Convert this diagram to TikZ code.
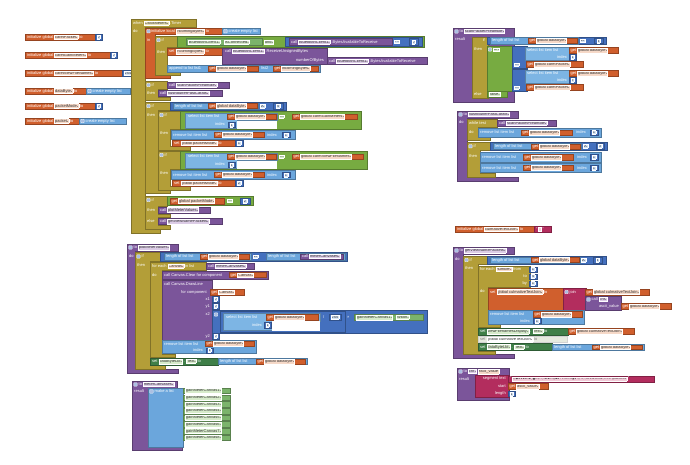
\documentclass[tikz,border=0pt]{standalone}
\usepackage{fontspec}
\setmainfont{Liberation Sans}
\newfontfamily\dv{DejaVu Sans}
\definecolor{ctl}{HTML}{B39E38}
\definecolor{prc}{HTML}{7B559A}
\definecolor{vr}{HTML}{D05F2D}
\definecolor{ls}{HTML}{6BA6DC}
\definecolor{lsl}{HTML}{7DB5E4}
\definecolor{mb}{HTML}{4470BE}
\definecolor{lg}{HTML}{77AB41}
\definecolor{tx}{HTML}{B32D5E}
\definecolor{cg}{HTML}{7BB36B}
\definecolor{cs}{HTML}{3F7F48}
\definecolor{dis}{HTML}{E6EADF}
\definecolor{fo}{HTML}{F6D9C8}
\definecolor{fg}{HTML}{D7EBCB}
\definecolor{fp}{HTML}{DCCCE6}
\definecolor{fb}{HTML}{D3E3F6}
\definecolor{fy}{HTML}{EAE1B6}
\definecolor{ftx}{HTML}{F2CAD8}
\definecolor{fdk}{HTML}{333333}
\setlength\fboxsep{0.45pt}
\setlength\fboxrule{0.3pt}
\newcommand\bfs{\fontsize{4.0}{4.4}\selectfont}
\newcommand\Fd[2][fo]{\fcolorbox{white}{#1}{\textcolor{fdk}{#2}\hspace{0.3pt}{\dv\fontsize{2}{2}\selectfont\textcolor{fdk}{▾}}}}
\newcommand\Fe[2][fb]{\fcolorbox{white}{#1}{\textcolor{fdk}{#2}}}
\tikzset{
  bk/.style={fill=#1, draw=#1!72!black, line width=0.3pt},
  tl/.style={anchor=west, inner sep=0pt, text=white, font=\bfs},
  tr/.style={anchor=east, inner sep=0pt, text=white, font=\bfs},
  gear/.style={draw=white, fill=mb!45!white, rounded corners=0.6pt, minimum size=3.4pt, inner sep=0pt, line width=0.3pt}
}
\newcommand\Bx[5]{\draw[bk=#1] (#2,#3) rectangle (#4,#5);}
\newcommand\Tl[3]{\node[tl] at (#1,#2) {#3};}
\newcommand\Tr[3]{\node[tr] at (#1,#2) {#3};}
\newcommand\Gear[2]{\node[gear] at (#1,#2) {};}
\newcommand\Nm[5]{\Bx{mb}{#1}{#2}{#3}{#4}\node[inner sep=0pt,font=\bfs] at ({(#1+#3)/2},{(#2+#4)/2}) {\Fe[fb]{#5}};}
\newcommand\Gt[5]{\Bx{vr}{#1}{#2}{#3}{#4}\node[tl] at ({#1+1.5},{(#2+#4)/2}) {get \Fd{#5}};}
\begin{document}
\begin{tikzpicture}[x=1pt,y=-1pt]
\fill[white] (0,0) rectangle (690,464);
\useasboundingbox (0,0) rectangle (690,464);

% ---------- left column: globals ----------
\Bx{vr}{25}{34}{95}{40} \Tl{27}{37}{initialize global \Fd{caretPacket} to} \Nm{95}{34}{102}{40}{0}
\Bx{vr}{25}{52}{110}{58} \Tl{27}{55}{initialize global \Fd{caretGainMeters} to} \Nm{110}{52}{117}{58}{0}
\Bx{vr}{25}{70}{122}{76} \Tl{27}{73}{initialize global \Fd{caretViewFileNames} to} \Nm{122}{70}{134}{76}{254}
\Bx{vr}{25}{88}{86}{94} \Tl{27}{91}{initialize global \Fd{dataByte} to} \Bx{ls}{86}{88}{130}{94} \Gear{89.5}{91} \Tl{92.5}{91}{create empty list}
\Bx{vr}{25}{103}{95}{109} \Tl{27}{106}{initialize global \Fd{packetMode} to} \Nm{95}{103}{102}{109}{0}
\Bx{vr}{25}{118}{79}{124} \Tl{27}{121}{initialize global \Fd{packet} to} \Bx{ls}{79}{118}{126}{124} \Gear{82.5}{121} \Tl{85.5}{121}{create empty list}

% ---------- when ClockMeters.Timer ----------
\draw[bk=ctl] (131,19)--(196,19)--(196,27)--(145,27)--(145,229)--(160,229)--(160,233)--(131,233)--cycle;
\Tl{133}{23}{when \Fd[fy]{ClockMeters} .Timer}
\Tl{133}{31}{do}
% initialize local
\draw[bk=vr] (145,28)--(222,28)--(222,34.5)--(155,34.5)--(155,75)--(170,75)--(170,78.5)--(145,78.5)--cycle;
\Gear{148.5}{31.25} \Tl{151}{31.25}{initialize local \Fd{incomingBytes} to}
\Bx{ls}{222}{28}{260}{34.5} \Gear{225.5}{31.25} \Tl{228.5}{31.25}{create empty list}
\Tl{147}{40}{in}
% if 1
\draw[bk=ctl] (155,36)--(177,36)--(177,47.5)--(167,47.5)--(167,72)--(180,72)--(180,75)--(155,75)--cycle;
\Gear{158.5}{40} \Tl{161.5}{40}{if} \Tl{157}{52}{then}
\Bx{lg}{177}{36}{424}{47.5}
\Bx{cg}{186}{38.5}{262}{45} \Tl{188}{41.75}{\Fd[fg]{BluetoothClient1} . \Fd[fg]{IsConnected}}
\Tl{264}{41.75}{\Fd[fg]{and}}
\Bx{mb}{285}{37}{422}{46.5}
\Bx{prc}{289}{38.5}{392}{45} \Tl{291}{41.75}{call \Fd[fp]{BluetoothClient1} .BytesAvailableToReceive}
\Tl{394}{41.75}{\Fd[fb]{>}} \Nm{409}{38.5}{418}{45}{0}
\Bx{vr}{167}{48}{222}{55} \Tl{169}{51.5}{set \Fd{incomingBytes} to}
\Bx{prc}{222}{48}{327}{64.5}
\Tl{225}{51.5}{call \Fd[fp]{BluetoothClient1} .ReceiveUnsignedBytes}
\Tr{324}{60.75}{numberOfBytes}
\Bx{prc}{327}{57.5}{427}{64} \Tl{329}{60.75}{call \Fd[fp]{BluetoothClient1} .BytesAvailableToReceive}
\Bx{ls}{167}{65}{320}{72} \Tl{169}{68.5}{append to list list1}
\Gt{208}{66}{258}{71}{global dataByte} \Tl{261}{68.5}{list2} \Gt{273}{66}{318}{71}{incomingBytes}
% if 2
\draw[bk=ctl] (145,81)--(167,81)--(167,89)--(158,89)--(158,97.5)--(170,97.5)--(170,100.5)--(145,100.5)--cycle;
\Gear{148.5}{85} \Tl{151.5}{85}{if} \Tl{147}{93.5}{then}
\Bx{prc}{167}{82}{229}{88} \Tl{169}{85}{call \Fd[fp]{scanPacketPreamble}}
\Bx{prc}{158}{90.5}{222}{96.5} \Tl{160}{93.5}{call \Fd[fp]{flushBufferPastCarats}}
% if 3
\draw[bk=ctl] (145,102)--(170,102)--(170,110)--(158,110)--(158,190)--(170,190)--(170,193.5)--(145,193.5)--cycle;
\Gear{148.5}{106} \Tl{151.5}{106}{if} \Tl{147}{115}{then}
\Bx{mb}{170}{102}{286}{110}
\Bx{ls}{173}{102.8}{258}{109.2} \Tl{175}{106}{length of list list}
\Gt{208}{103.6}{257}{108.4}{global dataByte}
\Tl{260}{106}{\Fd[fb]{≥}} \Nm{273}{103.3}{283}{108.7}{4}
% if A
\draw[bk=ctl] (158,111)--(180,111)--(180,129)--(170,129)--(170,146.5)--(190,146.5)--(190,150)--(158,150)--cycle;
\Gear{161.5}{115} \Tl{164.5}{115}{if} \Tl{160}{133}{then}
\Bx{lg}{180}{111.5}{361}{129}
\draw[bk=lsl] (185,113)--(277,113)--(277,120.5)--(237,120.5)--(237,128.5)--(185,128.5)--cycle;
\fill[white] (237.3,120.8) rectangle (277,128.5);
\Tl{188}{116.5}{select list item list} \Gt{227}{114}{276}{119}{global dataByte}
\Tr{225}{124.5}{index} \Nm{228}{122}{235}{127.5}{1}
\Tl{279}{116.5}{\Fd[fg]{=}}
\Gt{292}{114}{357}{119.5}{global caretGainMeters}
\Bx{ls}{171}{130.5}{295}{139} \Tl{173}{134.75}{remove list item list}
\Gt{214}{132}{264}{137.5}{global dataByte} \Tl{267}{134.75}{index} \Nm{282}{132}{290}{137.5}{1}
\Bx{vr}{172}{140}{235}{146.3} \Tl{174}{143.15}{set \Fd{global packetMode} to} \Nm{235}{140.5}{243}{145.8}{1}
% if B
\draw[bk=ctl] (158,151)--(180,151)--(180,169)--(170,169)--(170,186.5)--(190,186.5)--(190,190)--(158,190)--cycle;
\Gear{161.5}{155} \Tl{164.5}{155}{if} \Tl{160}{173}{then}
\Bx{lg}{180}{151.5}{367}{169}
\draw[bk=lsl] (185,153)--(277,153)--(277,160.5)--(237,160.5)--(237,168.5)--(185,168.5)--cycle;
\fill[white] (237.3,160.8) rectangle (277,168.5);
\Tl{188}{156.5}{select list item list} \Gt{227}{154}{276}{159}{global dataByte}
\Tr{225}{164.5}{index} \Nm{228}{162}{235}{167.5}{1}
\Tl{279}{156.5}{\Fd[fg]{=}}
\Gt{292}{154}{363}{159.5}{global caretViewFileNames}
\Bx{ls}{171}{170.5}{295}{179} \Tl{173}{174.75}{remove list item list}
\Gt{214}{172}{264}{177.5}{global dataByte} \Tl{267}{174.75}{index} \Nm{282}{172}{290}{177.5}{1}
\Bx{vr}{172}{180}{235}{186.3} \Tl{174}{183.15}{set \Fd{global packetMode} to} \Nm{235}{180.5}{243}{185.8}{2}
% if 4
\draw[bk=ctl] (145,196)--(167,196)--(167,206)--(158,206)--(158,214)--(170,214)--(170,217)--(158,217)--(158,225.5)--(170,225.5)--(170,229)--(145,229)--cycle;
\Gear{148.5}{200} \Tl{151.5}{200}{if} \Tl{147}{210}{then} \Tl{147}{221.5}{else}
\Bx{lg}{167}{196.5}{253}{205.5}
\Gt{170}{198}{224}{204}{global packetMode} \Tl{227}{201}{\Fd[fg]{=}} \Nm{240}{198}{250}{204}{2}
\Bx{prc}{158}{207}{210}{213} \Tl{160}{210}{call \Fd[fp]{plotMeterValues}}
\Bx{prc}{158}{218.5}{222}{224.5} \Tl{160}{221.5}{call \Fd[fp]{getViewNamePackets}}

% ---------- scanPacketPreamble ----------
\Bx{prc}{453}{28}{514}{102}
\Gear{456.5}{31.5} \Tl{459.5}{31.5}{to \Fd[fp]{scanPacketPreamble}}
\Tl{455}{39.5}{result}
\Bx{ctl}{472}{37}{488}{98}
\Tr{485}{40.5}{if} \Tl{474}{49.5}{then} \Tl{474}{94.5}{else}
\Bx{mb}{487}{37}{606}{44.5}
\Bx{ls}{490}{37.6}{578}{43.9} \Tl{492}{40.75}{length of list list}
\Gt{528}{38.3}{577}{43.2}{global dataByte}
\Tl{580}{40.75}{\Fd[fb]{≥}} \Nm{594}{38}{603}{43.5}{4}
\Bx{lg}{487}{46}{514}{91}
\Gear{490}{49.5} \Tl{493}{49.5}{\Fd[fg]{or}}
\Bx{mb}{512}{46.5}{527}{68}
\Bx{lsl}{525}{47}{569}{60.5} \Tl{527}{50.25}{select list item list} \Tr{567}{57.25}{index}
\Gt{569}{47.5}{618}{53}{global dataByte} \Nm{569}{54.5}{576}{60}{1}
\Tl{514}{64.25}{\Fd[fb]{=}} \Gt{526}{61.5}{583}{67}{global caretPacket}
\Bx{mb}{512}{69.5}{527}{91}
\Bx{lsl}{525}{70}{569}{83.5} \Tl{527}{73.25}{select list item list} \Tr{567}{80.25}{index}
\Gt{569}{70.5}{618}{76}{global dataByte} \Nm{569}{77.5}{576}{83}{2}
\Tl{514}{87.25}{\Fd[fb]{=}} \Gt{526}{84.5}{583}{90}{global caretPacket}
\Bx{lg}{487}{91.5}{507}{97.5} \Tl{489}{94.5}{\Fd[fg]{false}}

% ---------- flushBufferPastCarats ----------
\draw[bk=prc] (457,111)--(518,111)--(518,118)--(467,118)--(467,177)--(518,177)--(518,181)--(457,181)--cycle;
\Gear{460.5}{114.5} \Tl{463.5}{114.5}{to \Fd[fp]{flushBufferPastCarats}}
\Tl{459}{122.5}{do}
\draw[bk=ctl] (467,119)--(497,119)--(497,127)--(478,127)--(478,137)--(490,137)--(490,140.5)--(467,140.5)--cycle;
\Tl{469}{123}{while test} \Tl{469}{132}{do}
\Bx{prc}{497}{120}{556}{126} \Tl{499}{123}{call \Fd[fp]{scanPacketPreamble}}
\Bx{ls}{478}{128}{601}{137} \Tl{480}{132.5}{remove list item list}
\Gt{521}{129.7}{572}{135.3}{global dataByte} \Tl{576}{132.5}{index} \Nm{590}{129.7}{598}{135.3}{1}
\draw[bk=ctl] (467,142)--(490,142)--(490,150.5)--(480,150.5)--(480,173)--(495,173)--(495,177)--(467,177)--cycle;
\Gear{470.5}{146.25} \Tl{473.5}{146.25}{if} \Tl{469}{156}{then}
\Bx{mb}{490}{142}{607}{150.5}
\Bx{ls}{493}{143}{581}{149.5} \Tl{495}{146.25}{length of list list}
\Gt{531}{143.8}{580}{148.7}{global dataByte} \Tl{583}{146.25}{\Fd[fb]{≥}} \Nm{596}{143.5}{604}{149}{3}
\Bx{ls}{480}{152.5}{601}{162} \Tl{482}{157.25}{remove list item list}
\Gt{523}{154.5}{573}{160}{global dataByte} \Tl{577}{157.25}{index} \Nm{590}{154.5}{598}{160}{1}
\Bx{ls}{480}{163}{601}{172.5} \Tl{482}{167.75}{remove list item list}
\Gt{523}{165}{573}{170.5}{global dataByte} \Tl{577}{167.75}{index} \Nm{590}{165}{598}{170.5}{1}

% ---------- culmativeTextJoin ----------
\Bx{vr}{455}{226}{534}{232.5} \Tl{457}{229.25}{initialize global \Fd{culmativeTextJoin} to}
\Bx{tx}{534}{226}{551}{232.5} \Tl{536}{229.25}{“\,\Fe[ftx]{\phantom{x}}\,”}

% ---------- plotMeterValues ----------
\draw[bk=prc] (127,244)--(178,244)--(178,251)--(135,251)--(135,369)--(178,369)--(178,373)--(127,373)--cycle;
\Gear{130.5}{247.5} \Tl{133.5}{247.5}{to \Fd[fp]{plotMeterValues}}
\Tl{129}{256}{do}
\draw[bk=ctl] (135,252)--(160,252)--(160,261)--(150,261)--(150,365)--(165,365)--(165,369)--(135,369)--cycle;
\Gear{138.5}{256.5} \Tl{141.5}{256.5}{if} \Tl{137}{265.5}{then}
\Bx{mb}{160}{252}{347}{261}
\Bx{ls}{164}{253}{251}{260} \Tl{166}{256.5}{length of list list}
\Gt{200}{254}{249}{259}{global dataByte}
\Tl{253}{256.5}{\Fd[fb]{≥}}
\Bx{ls}{266}{253}{345}{260} \Tl{268}{256.5}{length of list list}
\Bx{prc}{300}{254}{343}{259} \Tl{302}{256.5}{call \Fd[fp]{meterCanvases}}
\draw[bk=ctl] (150,262)--(206,262)--(206,270)--(162,270)--(162,354)--(175,354)--(175,357.5)--(150,357.5)--cycle;
\Tl{152}{266}{for each \Fd{Canvas} in list} \Tl{152}{275}{do}
\Bx{prc}{206}{263}{254}{269} \Tl{208}{266}{call \Fd[fp]{meterCanvases}}
\Bx{prc}{162}{271}{268}{279} \Tl{164}{275}{call Canvas.Clear for component}
\Gt{229}{272.5}{266}{277.5}{Canvas}
\Bx{prc}{162}{280}{212}{340}
\Tl{164}{284}{call Canvas.DrawLine}
\Tr{207}{292.25}{for component} \Gt{210}{289.5}{244}{295}{Canvas}
\Tr{210}{299.25}{x1} \Nm{212}{296.5}{219}{302}{0}
\Tr{210}{306.25}{y1} \Nm{212}{303.5}{219}{309}{0}
\Tr{210}{314.5}{x2}
\Bx{mb}{212}{310.5}{427}{333}
\Gear{216}{314.5}
\Bx{mb}{220}{311.5}{345}{332}
\draw[bk=lsl] (223,313)--(320,313)--(320,321)--(272,321)--(272,330.5)--(223,330.5)--cycle;
\fill[white] (272.3,321.3) rectangle (320,330.5);
\Tl{226}{317}{select list item list} \Gt{266}{314.5}{318}{320}{global dataByte}
\Tr{262}{325.5}{index} \Nm{264}{322.5}{271}{328.5}{1}
\Tl{323}{317.25}{/} \Nm{329}{314.5}{341}{320}{255}
\Tl{347}{317.25}{×}
\Bx{cg}{354}{314}{423}{320.5} \Tl{356}{317.25}{\Fd[fg]{gainMeterCanvas1} . \Fd[fg]{Width}}
\Tr{210}{336.25}{y2} \Nm{212}{333.5}{219}{339}{0}
\Bx{ls}{162}{340}{256}{353.5} \Tl{164}{343.75}{remove list item list}
\Gt{205}{341.2}{254}{346.4}{global dataByte} \Tr{203}{350.5}{index} \Nm{206}{348}{213}{353}{1}
\Bx{cs}{150}{358}{218}{365} \Tl{152}{361.5}{set \Fd[fg]{dataByteLbl} . \Fd[fg]{Text} to}
\Bx{ls}{218}{358.5}{307}{364.5} \Tl{220}{361.5}{length of list list}
\Gt{256}{359.3}{305}{363.8}{global dataByte}

% ---------- getViewNamePackets ----------
\draw[bk=prc] (453,247)--(514,247)--(514,254)--(463,254)--(463,354)--(514,354)--(514,358)--(453,358)--cycle;
\Gear{456.5}{250.5} \Tl{459.5}{250.5}{to \Fd[fp]{getViewNamePackets}}
\Tl{455}{259}{do}
\draw[bk=ctl] (463,256)--(487,256)--(487,264)--(478,264)--(478,351)--(495,351)--(495,354)--(463,354)--cycle;
\Gear{466.5}{260} \Tl{469.5}{260}{if} \Tl{465}{268}{then}
\Bx{mb}{487}{256}{606}{264}
\Bx{ls}{490}{256.8}{580}{263.2} \Tl{492}{260}{length of list list}
\Gt{531}{257.5}{579}{262.5}{global dataByte} \Tl{581}{260}{\Fd[fb]{≥}} \Nm{593}{257.3}{602}{262.8}{4}
\draw[bk=ctl] (478,266)--(530,266)--(530,287)--(488,287)--(488,324)--(500,324)--(500,327.5)--(478,327.5)--cycle;
\Tl{480}{269.5}{for each \Fd{number} from} \Tr{527}{276.5}{to} \Tr{527}{283.5}{by}
\Nm{529}{267}{537}{272}{1} \Nm{529}{274}{537}{279}{4} \Nm{529}{281}{537}{286}{1}
\Tl{480}{291}{do}
\Bx{vr}{488}{288}{563}{310} \Tl{490}{292}{set \Fd{global culmativeTextJoin} to}
\Bx{tx}{563}{288}{586}{310} \Gear{566.5}{292} \Tl{569.5}{292}{join}
\Gt{585}{289}{649}{295}{global culmativeTextJoin}
\Bx{prc}{585}{296}{621}{310} \Gear{588.5}{299.5} \Tl{591.5}{299.5}{call \Fd[fp]{chr}}
\Tr{619}{306.5}{ascii\_value} \Gt{621}{303.5}{671}{309.5}{global dataByte}
\Bx{ls}{488}{310.5}{584}{324} \Tl{490}{314.25}{remove list item list}
\Gt{533}{311.5}{582}{317}{global dataByte} \Tr{530}{320.75}{index} \Nm{533}{318.5}{541}{323.5}{1}
\Bx{cs}{478}{328}{568}{335} \Tl{480}{331.5}{set \Fd[fg]{viewFilenamesDisplay} . \Fd[fg]{Text} to}
\Gt{568}{328.5}{634}{334.5}{global culmativeTextJoin}
\draw[fill=dis, draw=gray!35, line width=0.3pt] (478,336) rectangle (567,342.5);
\node[tl, text=gray] at (480,339.25) {set \Fd[white]{global culmativeTextJoin} to};
\Bx{cs}{478}{343.5}{552}{350.5} \Tl{480}{347}{set \Fd[fg]{dataByteLbl} . \Fd[fg]{Text} to}
\Bx{ls}{552}{344}{644}{350} \Tl{554}{347}{length of list list}
\Gt{592}{344.8}{642}{349.5}{global dataByte}

% ---------- chr ----------
\Bx{prc}{457}{368}{509}{400}
\Gear{460.5}{371.5} \Tl{463.5}{371.5}{to \Fd[fp]{chr} \Fe[fo]{ascii\_value}}
\Tl{459}{379.5}{result}
\Bx{tx}{475}{375.5}{509}{397.5}
\Tr{506}{379}{segment text} \Tr{506}{386.25}{start} \Tr{506}{393.75}{length}
\Bx{tx}{508}{376}{654}{382}
\Tl{510}{379}{“\,\Fe[ftx]{\dv\fontsize{2.5}{3}\selectfont ☺☻♥♦♣♠•◘○◙♂♀♪♫☼►◄↕‼¶§▬↨↑↓→←∟↔▲▼ !()*+,-./0123456789:;<=>?@ABCDEFG}\,”}
\Gt{508}{383.5}{548}{389}{ascii\_value}
\Nm{508}{391}{515}{396.5}{1}

% ---------- meterCanvases ----------
\draw[bk=prc] (132,381)--(177,381)--(177,388)--(182,388)--(182,450)--(132,450)--cycle;
\Gear{135.5}{384.5} \Tl{138.5}{384.5}{to \Fd[fp]{meterCanvases}}
\Tl{134}{391.5}{result}
\Bx{ls}{148}{388}{183}{447} \Gear{151.5}{391.5} \Tl{154.5}{391.5}{make a list}
\foreach \k [evaluate=\k as \yy using 388+6.7*(\k-1)] in {1,...,8} {
  \draw[bk=cg] (183,\yy) rectangle (230,{\yy+5.6});
  \node[tl] at (185,{\yy+2.8}) {\Fd[fg]{gainMeterCanvas\k}};
}
\end{tikzpicture}
\end{document}
